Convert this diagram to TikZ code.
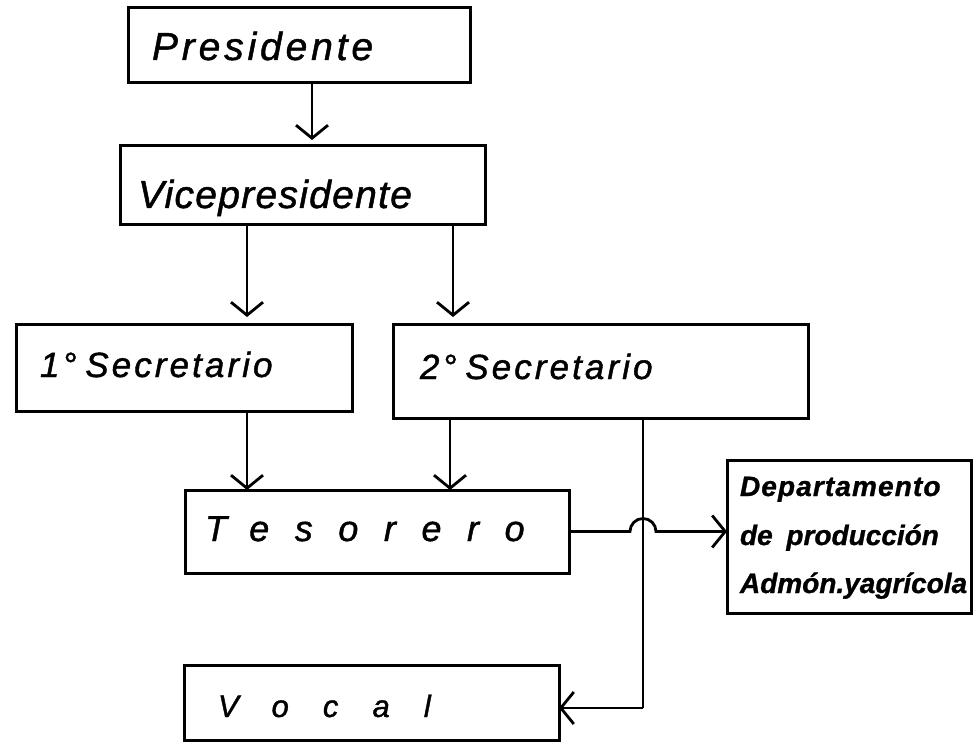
\documentclass[tikz,border=0pt]{standalone}
\usepackage{fontspec}
\setmainfont{Liberation Sans}
\usetikzlibrary{arrows.meta,calc}
\tikzset{
  box/.style={draw, line width=3pt, rectangle, inner sep=0pt, outer sep=0pt},
  conn/.style={line width=2.8pt},
  arr/.style={conn, -{Straight Barb[length=13pt,width=32pt,line width=2.8pt]}},
  lbl/.style={anchor=base west, inner sep=0pt, outer sep=0pt},
}
\begin{document}
\begin{tikzpicture}[x=1pt,y=-1pt]
\useasboundingbox (0,0) rectangle (974,743);
% boxes
\node[box, minimum width=342pt, minimum height=75pt] (pres) at (299,45.5) {};
\node[box, minimum width=365pt, minimum height=79pt] (vice) at (302.5,185.5) {};
\node[box, minimum width=336pt, minimum height=87pt] (sec1) at (184,367.5) {};
\node[box, minimum width=415pt, minimum height=94pt] (sec2) at (600.5,371) {};
\node[box, minimum width=384pt, minimum height=83pt] (tes) at (377,531.5) {};
\node[box, minimum width=244pt, minimum height=153pt] (dep) at (849,536.5) {};
\node[box, minimum width=375pt, minimum height=75pt] (voc) at (371.5,702.5) {};
% texts
\node[lbl, font=\fontsize{39}{39}\selectfont\itshape\addfontfeatures{LetterSpace=9.9,FakeBold=1.2}] (tpres) at (152,60) {Presidente};
\node[lbl, font=\fontsize{39}{39}\selectfont\itshape\addfontfeatures{LetterSpace=3.3,FakeBold=1.2}] (tvice) at (138,208) {Vicepresidente};
\node[lbl, font=\fontsize{35}{35}\selectfont\itshape\addfontfeatures{LetterSpace=8.8,FakeBold=1.2}] (tsec1) at (40,377) {1°\hspace{-4pt} Secretario};
\node[lbl, font=\fontsize{35}{35}\selectfont\itshape\addfontfeatures{LetterSpace=8.8,FakeBold=1.2}] (tsec2) at (420,379) {2°\hspace{-4pt} Secretario};
\node[lbl, font=\fontsize{36}{36}\selectfont\itshape\addfontfeatures{LetterSpace=71,FakeBold=1.2}] (ttes) at (205,541) {Tesorero};
\node[lbl, font=\fontsize{31}{31}\selectfont\itshape\addfontfeatures{LetterSpace=110,FakeBold=1.2}] (tvoc) at (218,717) {Vocal};
\node[lbl, font=\fontsize{28}{28}\selectfont\bfseries\itshape\addfontfeatures{LetterSpace=4,FakeBold=1}] (tdep1) at (740,496) {Departamento};
\node[lbl, font=\fontsize{28}{28}\selectfont\bfseries\itshape\addfontfeatures{FakeBold=1}] (tdep2) at (740,545) {de\hspace{6pt} producción};
\node[lbl, font=\fontsize{28}{28}\selectfont\bfseries\itshape\addfontfeatures{FakeBold=1}] (tdep3) at (740,593) {Admón.yagrícola};
% x positions of connectors
\coordinate (xa) at (312,0);
\coordinate (xb) at (247,0);
\coordinate (xc) at (453,0);
\coordinate (xd) at (450,0);
\coordinate (xv) at (643,0);
\coordinate (yv) at (0,708);
% connectors
\draw[arr, shorten >=6pt] (xa |- pres.south) -- (xa |- vice.north);
\draw[arr, shorten >=7pt] (xb |- vice.south) -- (xb |- sec1.north);
\draw[arr, shorten >=7pt] (xc |- vice.south) -- (xc |- sec2.north);
\draw[arr] (xb |- sec1.south) -- (xb |- tes.north);
\draw[arr] (xd |- sec2.south) -- (xd |- tes.north);
\draw[conn] (xv |- sec2.south) -- (xv |- yv) coordinate (corner);
\draw[arr] (corner) -- (voc.east |- yv);
\draw[arr] (tes.east) -- ($(xv |- tes.east)+(-13,0)$) arc[start angle=180,end angle=0,radius=13pt] -- (dep.west |- tes.east);
\end{tikzpicture}
\end{document}
